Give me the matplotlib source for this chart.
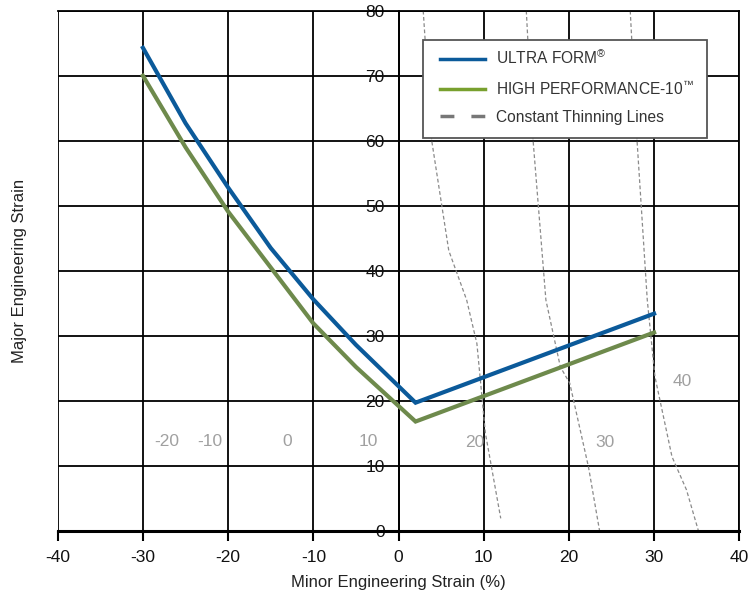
import matplotlib
matplotlib.use("Agg")
import matplotlib.pyplot as plt
from matplotlib.lines import Line2D
from matplotlib.patches import Rectangle

plt.rcParams['font.family'] = ['Liberation Sans', 'DejaVu Sans']
plt.rcParams['axes.unicode_minus'] = False
plt.rcParams['mathtext.fontset'] = 'custom'
plt.rcParams['mathtext.rm'] = 'Liberation Sans'
plt.rcParams['mathtext.default'] = 'regular'

# Forming limit curves
ultra_x = [-30, -25, -20, -15, -10, -5, 2, 30]
ultra_y = [74.3, 62.7, 52.8, 43.5, 35.6, 28.6, 19.7, 33.4]
hp_x = [-30, -25, -20, -15, -10, -5, 2, 30]
hp_y = [70.0, 59.0, 49.1, 40.5, 31.9, 25.2, 16.8, 30.5]

# Constant thinning lines
thin20_x = [2.9, 3.9, 5.9, 8.0, 9.2, 10.2, 12.0]
thin20_y = [80, 60, 43.1, 35.5, 28.8, 15, 1.9]
thin30_x = [15.0, 15.8, 17.3, 19.0, 20.1, 22.3, 23.6]
thin30_y = [80, 60, 35.5, 25.2, 22.7, 9.8, 0]
thin40_x = [27.2, 28.0, 29.2, 30.1, 32.1, 33.8, 35.2]
thin40_y = [80, 60, 35.5, 23.7, 11.4, 6.3, 0]

thin_labels = ['-20', '-10', '0', '10', '20', '30', '40']
thin_label_x = [-27.2, -22.1, -13.1, -3.5, 9.0, 24.2, 33.3]
thin_label_y = [13.7, 13.7, 13.7, 13.7, 13.5, 13.5, 23.0]

x_ticks = [-40, -30, -20, -10, 0, 10, 20, 30, 40]
y_ticks = [0, 10, 20, 30, 40, 50, 60, 70, 80]

blue = '#0b5a9a'
green_line = '#6e8a4c'
green_leg = '#78a02e'
gray = '#8a8a8a'

fig = plt.figure(figsize=(7.5, 5.98), dpi=100)
ax = fig.add_axes([0.077, 0.1125, 0.9087, 0.8695])
ax.set_xlim(-40, 40)
ax.set_ylim(0, 80)
ax.set_xticks(x_ticks)
ax.set_yticks(y_ticks)
ax.grid(True, color='black', linewidth=1.3, zorder=0)
ax.set_axisbelow(True)

for s in ['top', 'right']:
    ax.spines[s].set_linewidth(1.3)
ax.spines['left'].set_position(('data', 0))
ax.spines['left'].set_linewidth(1.3)
ax.spines['bottom'].set_linewidth(2.2)

ax.tick_params(axis='y', length=0, pad=10, labelsize=12.5, labelcolor='#111')
ax.tick_params(axis='x', direction='out', length=7, width=1.5, pad=7,
               labelsize=12.5, labelcolor='#111')

for tx, ty in [(thin20_x, thin20_y), (thin30_x, thin30_y), (thin40_x, thin40_y)]:
    ax.plot(tx, ty, color=gray, linewidth=0.9, linestyle=(0, (3, 2)), zorder=2)

for lab, lx, ly in zip(thin_labels, thin_label_x, thin_label_y):
    ax.text(lx, ly, lab, color='#a0a0a0', fontsize=12.5, ha='center', va='center', zorder=3)

ax.plot(ultra_x, ultra_y, color=blue, linewidth=3, solid_joinstyle='miter', zorder=4)
ax.plot(hp_x, hp_y, color=green_line, linewidth=3, solid_joinstyle='miter', zorder=4)

# legend box
ax.add_patch(Rectangle((0.536, 0.756), 0.417, 0.188, transform=ax.transAxes,
                       facecolor='white', edgecolor='#555555', linewidth=1.3,
                       zorder=5))

handles = [
    Line2D([], [], color=blue, linewidth=2.5),
    Line2D([], [], color=green_leg, linewidth=2.5),
    Line2D([], [], color='#777777', linewidth=2.5, linestyle=(0, (4.0, 4.9))),
]
labels = ['ULTRA FORM$^{\u00ae}$', 'HIGH PERFORMANCE-10$^{\u2122}$', 'Constant Thinning Lines']
leg = ax.legend(handles, labels, loc='upper left', bbox_to_anchor=(0.561, 0.927),
                frameon=False, fontsize=11.2, handlelength=2.9, handletextpad=0.7,
                labelspacing=0.76, borderpad=0, borderaxespad=0)
leg.set_zorder(6)
for t in leg.get_texts():
    t.set_color('#333333')

ax.set_xlabel('Minor Engineering Strain (%)', fontsize=12, color='#222', labelpad=7)
fig.text(0.026, 0.547, 'Major Engineering Strain', rotation=90, fontsize=12,
         color='#222', ha='center', va='center')

fig.savefig('out.png', dpi=100)
